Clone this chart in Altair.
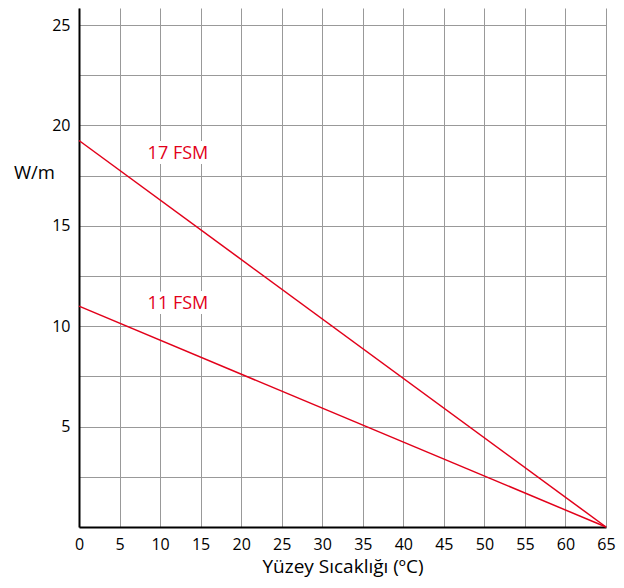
import altair as alt
import pandas as pd

series = ["17 FSM", "17 FSM", "11 FSM", "11 FSM"]
temps = [0, 65, 0, 65]
watts = [19.25, 0, 11.0, 0]

label_text = ["17 FSM", "11 FSM"]
label_x = [12.2, 12.2]
label_y = [18.6, 11.1]

x_ticks = list(range(0, 70, 5))
y_grid = [2.5 * i for i in range(1, 11)]

RED = "#e2001a"
FONT = "Open Sans"

df = pd.DataFrame({"series": series, "t": temps, "w": watts})
lab = pd.DataFrame({"text": label_text, "x": label_x, "y": label_y})

xs = alt.Scale(domain=[0, 65], nice=False, zero=False)
ys = alt.Scale(domain=[0, 25.85], nice=False)

lines = alt.Chart(df).mark_line(color=RED, strokeWidth=1.5).encode(
    x=alt.X("t:Q", scale=xs,
            axis=alt.Axis(values=x_ticks, title="Yüzey Sıcaklığı (ºC)", grid=True,
                          gridColor="#999999", gridWidth=1, gridOpacity=1,
                          ticks=False, domainColor="#000000", domainWidth=2,
                          labelFlush=False, labelOverlap=False,
                          labelFontSize=16, labelFont=FONT, labelColor="#000",
                          labelPadding=9, titleFontSize=19, titleFont=FONT,
                          titleFontWeight="normal", titleColor="#000", titlePadding=5)),
    y=alt.Y("w:Q", scale=ys,
            axis=alt.Axis(values=y_grid, title="W/m", grid=True,
                          gridColor="#999999", gridWidth=1, gridOpacity=1,
                          ticks=False, domainColor="#000000", domainWidth=2,
                          labelExpr="datum.value % 5 == 0 ? datum.label : ''",
                          labelFlush=False, labelOverlap=False,
                          labelFontSize=16, labelFont=FONT, labelColor="#000",
                          labelPadding=9, titleFontSize=18.5, titleFont=FONT,
                          titleFontWeight="normal", titleColor="#000",
                          titleAngle=0, titleX=-45, titleY=164,
                          titleAlign="center", titleBaseline="middle")),
    detail="series:N",
)

bg = alt.Chart(lab).mark_text(fontSize=18, font=FONT, color="white", stroke="white",
                              strokeWidth=10).encode(
    x=alt.X("x:Q", scale=xs), y=alt.Y("y:Q", scale=ys), text="text:N")
txt = alt.Chart(lab).mark_text(fontSize=18, font=FONT, color=RED).encode(
    x=alt.X("x:Q", scale=xs), y=alt.Y("y:Q", scale=ys), text="text:N")

chart = alt.layer(bg, lines, txt).properties(
    width=527, height=519,
    autosize=alt.AutoSizeParams(type="none"),
    padding={"left": 71, "top": 0, "right": 10, "bottom": 53},
).configure_view(stroke=None)

chart.save("out.html", embed_options={"renderer": "svg", "actions": False})
